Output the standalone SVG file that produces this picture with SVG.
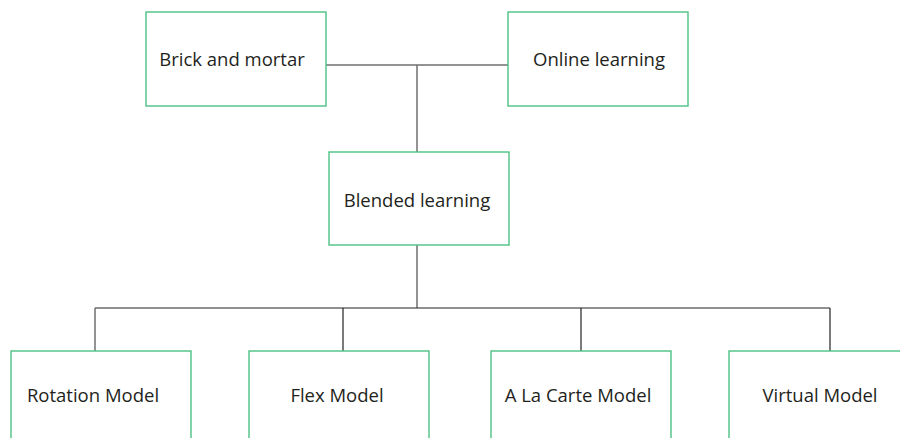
<svg xmlns="http://www.w3.org/2000/svg" width="900" height="438" viewBox="0 0 900 438">
  <style>
    .box { fill: #ffffff; stroke: #4cc283; stroke-width: 1.4; }
    .lbl { font-family: "Open Sans", "Liberation Sans", sans-serif; font-size: 18.5px; fill: #231f20; text-anchor: middle; }
    .link { fill: none; stroke: #6f6f6f; stroke-width: 1.5; }
    .bus { fill: none; stroke: #222222; stroke-width: 1.2; }
  </style>
  <rect width="900" height="438" fill="#ffffff"/>

  <!-- connectors -->
  <g id="connectors">
    <line class="link" x1="326" y1="65" x2="508" y2="65"/>
    <line class="link" x1="417" y1="65" x2="417" y2="152"/>
    <line class="link" x1="417" y1="245" x2="417" y2="308"/>
    <line class="bus" x1="95" y1="308" x2="830" y2="308"/>
    <line class="link" x1="95" y1="308" x2="95" y2="351"/>
    <line class="bus" x1="343" y1="308" x2="343" y2="351"/>
    <line class="bus" x1="581" y1="308" x2="581" y2="351"/>
    <line class="bus" x1="830" y1="308" x2="830" y2="351"/>
  </g>

  <!-- top row -->
  <g id="brick-and-mortar">
    <rect class="box" x="146" y="12" width="180" height="94"/>
    <text class="lbl" x="232" y="66">Brick and mortar</text>
  </g>
  <g id="online-learning">
    <rect class="box" x="508" y="12" width="180" height="94"/>
    <text class="lbl" x="599" y="66">Online learning</text>
  </g>

  <!-- middle -->
  <g id="blended-learning">
    <rect class="box" x="329" y="152" width="180" height="93"/>
    <text class="lbl" x="417" y="207">Blended learning</text>
  </g>

  <!-- bottom row -->
  <g id="rotation-model">
    <rect class="box" x="11" y="351" width="180" height="100"/>
    <text class="lbl" x="93" y="402">Rotation Model</text>
  </g>
  <g id="flex-model">
    <rect class="box" x="249" y="351" width="180" height="100"/>
    <text class="lbl" x="337" y="402">Flex Model</text>
  </g>
  <g id="a-la-carte-model">
    <rect class="box" x="491" y="351" width="180" height="100"/>
    <text class="lbl" x="578" y="402">A La Carte Model</text>
  </g>
  <g id="virtual-model">
    <rect class="box" x="729" y="351" width="180" height="100"/>
    <text class="lbl" x="820" y="402">Virtual Model</text>
  </g>
</svg>
